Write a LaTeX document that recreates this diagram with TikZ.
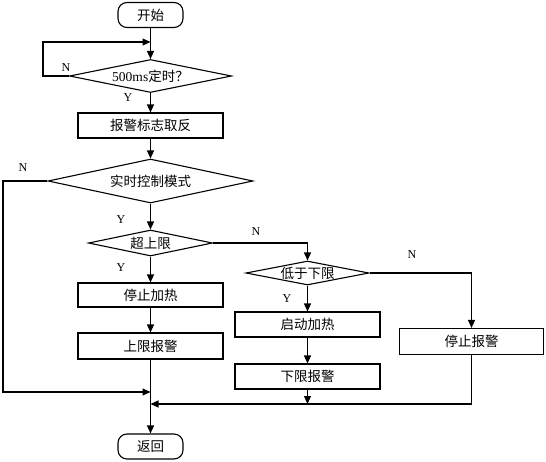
\documentclass[tikz,border=0pt]{standalone}
\usepackage{fontspec}
\setmainfont{Liberation Serif}
\newfontfamily\cjk{Noto Sans CJK SC}
\usetikzlibrary{arrows.meta,positioning,shapes.geometric}

\begin{document}
\begin{tikzpicture}[x=1pt, y=-1pt, line width=1.1pt,
    every node/.style={font=\fontsize{13.5}{15}\selectfont\cjk},
    term/.style={draw, rectangle, rounded corners=9pt, minimum width=65pt, minimum height=25pt, inner sep=0pt},
    stepbox/.style={draw, rectangle, minimum width=145pt, minimum height=25pt, inner sep=0pt},
    decision/.style={draw, diamond, inner sep=0pt},
    yn/.style={font=\fontsize{12}{13}\selectfont\rmfamily},
    flow/.style={-{Triangle[length=8pt,width=7pt]}}]
    \useasboundingbox (0,0) rectangle (546,461);

    % main column
    \node[term] (start) at (150.5,15) {开始};
    \node[decision, aspect=4.9, minimum width=162pt, minimum height=33pt] (timer) at (150.5,76) {{\rmfamily 500ms}定时？};
    \node[stepbox] (flip) at (150.5,125.5) {报警标志取反};
    \node[decision, aspect=4.66, minimum width=205pt, minimum height=44pt] (mode) at (150.5,181) {实时控制模式};
    \node[decision, aspect=4.77, minimum width=124pt, minimum height=26pt] (over) at (150.5,243) {超上限};
    \node[stepbox, minimum height=24pt] (heatoff) at (150.5,295) {停止加热};
    \node[stepbox, minimum height=26pt] (upalarm) at (150.5,346) {上限报警};
    \node[term] (stop) at (150.5,446.5) {返回};

    % lower limit branch
    \node[decision, aspect=5.1, minimum width=123pt, minimum height=24pt] (under) at (307.5,273) {低于下限};
    \node[stepbox] (heaton) at (307.5,324.5) {启动加热};
    \node[stepbox] (lowalarm) at (307.5,376.5) {下限报警};
    \node[stepbox, minimum width=144pt, minimum height=26pt] (alarmoff) at (471.5,341.5) {停止报警};

    % bends and joins
    \coordinate (loopin) at (150.5,42);
    \coordinate (loopc) at (43,42);
    \coordinate (leftc) at (3,392);
    \coordinate (join1) at (150.5,392);
    \coordinate (join2) at (150.5,404);

    % connectors
    \draw[flow] (start) -- (timer);
    \draw[flow] (timer.west) -| (loopc) -- (loopin);
    \draw[flow] (timer) -- (flip);
    \draw[flow] (flip) -- (mode);
    \draw[flow] (mode) -- (over);
    \draw[flow] (over) -- (heatoff);
    \draw[flow] (heatoff) -- (upalarm);
    \draw[flow] (upalarm) -- (stop);
    \draw[flow] (mode.west) -| (leftc) -- (join1);
    \draw[flow] (over.east) -| (under.north);
    \draw[flow] (under) -- (heaton);
    \draw[flow] (heaton) -- (lowalarm);
    \draw[flow] (lowalarm.south) -- (lowalarm.south |- join2);
    \draw[flow] (under.east) -| (alarmoff.north);
    \draw[flow] (alarmoff.south) |- (join2);

    % Y / N labels
    \node[yn] (n1) at (66,68) {N};
    \node[yn] (y1) at (128,98) {Y};
    \node[yn] (n2) at (23,168) {N};
    \node[yn] (y2) at (121,220) {Y};
    \node[yn] (y3) at (121,268) {Y};
    \node[yn] (n3) at (256,232) {N};
    \node[yn] (n4) at (412,255) {N};
    \node[yn] (y4) at (287,299) {Y};
\end{tikzpicture}
\end{document}
